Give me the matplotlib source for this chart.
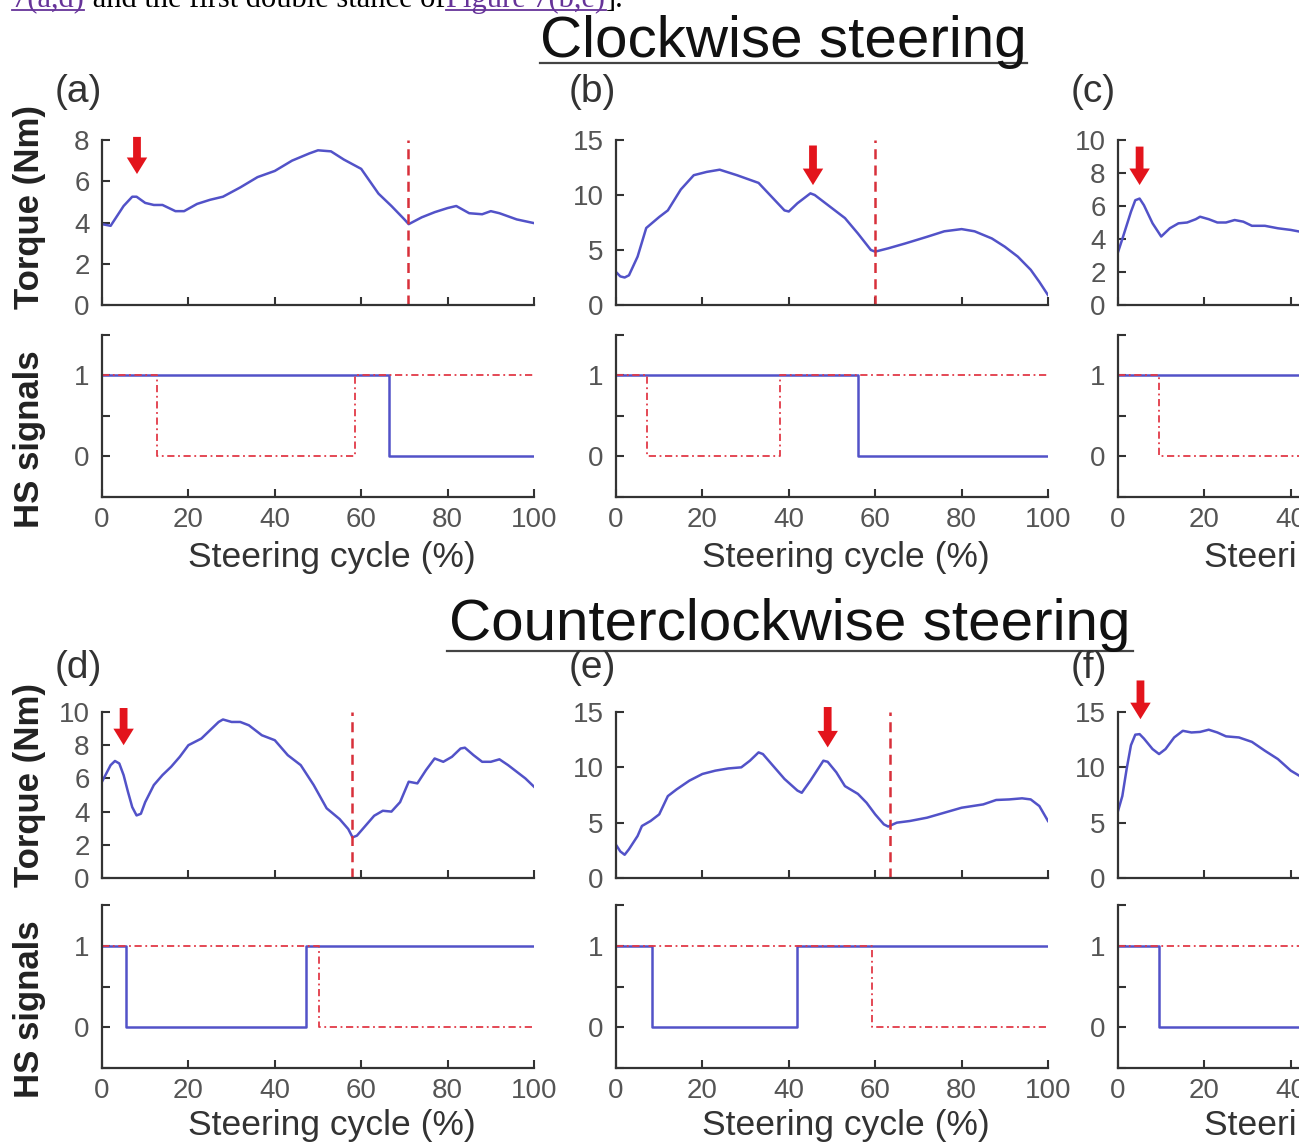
import matplotlib
matplotlib.use("Agg")
import matplotlib.pyplot as plt
from matplotlib.lines import Line2D

plt.rcParams["font.family"] = ["Liberation Sans", "DejaVu Sans"]

W, H = 1299, 1144

# torque curves (x = steering cycle %, y = Nm)
a_x = [0, 2, 5, 7, 8, 10, 12, 14, 17, 19, 22, 25, 28, 32, 36, 40, 44, 48, 50, 53,
       56, 60, 64, 67, 70, 71, 74, 77, 80, 82, 85, 88, 90, 92, 96, 100]
a_y = [3.92, 3.84, 4.8, 5.25, 5.25, 4.95, 4.85, 4.85, 4.55, 4.55, 4.9, 5.1, 5.25, 5.7,
       6.2, 6.5, 7.0, 7.35, 7.5, 7.45, 7.05, 6.6, 5.4, 4.8, 4.15, 3.92, 4.25, 4.5, 4.7,
       4.8, 4.45, 4.4, 4.55, 4.45, 4.15, 3.97]
b_x = [0, 1, 2, 3, 5, 7, 10, 12, 15, 18, 21, 24, 28, 33, 36, 39, 40, 42, 45, 46, 50,
       53, 56, 59, 60, 63, 67, 72, 76, 80, 83, 87, 90, 93, 96, 98, 100]
b_y = [3.0, 2.6, 2.5, 2.7, 4.4, 7.0, 8.0, 8.6, 10.5, 11.8, 12.1, 12.3, 11.8, 11.1, 9.85,
       8.6, 8.5, 9.25, 10.15, 10.0, 8.8, 7.9, 6.5, 5.0, 4.85, 5.15, 5.6, 6.2, 6.7, 6.9,
       6.7, 6.05, 5.3, 4.4, 3.2, 2.1, 0.9]
c_x = [0, 1, 3, 4, 5, 6, 8, 10, 12, 14, 16, 18, 19, 21, 23, 25, 27, 29, 31, 34, 37, 40, 43]
c_y = [3.2, 4.0, 5.65, 6.35, 6.45, 6.05, 4.95, 4.15, 4.65, 4.95, 5.0, 5.2, 5.35, 5.2,
       5.0, 5.0, 5.15, 5.05, 4.8, 4.8, 4.65, 4.55, 4.4]
d_x = [0, 1, 2, 3, 4, 5, 6, 7, 8, 9, 10, 12, 14, 16, 18, 20, 23, 25, 27, 28, 30, 32, 34,
       37, 40, 43, 46, 49, 52, 55, 57, 58, 59, 61, 63, 65, 67, 69, 71, 73, 75, 77, 79,
       81, 83, 84, 86, 88, 90, 92, 94, 96, 98, 100]
d_y = [5.8, 6.3, 6.8, 7.05, 6.9, 6.2, 5.2, 4.27, 3.77, 3.87, 4.57, 5.6, 6.2, 6.7, 7.3,
       8.0, 8.4, 8.9, 9.4, 9.55, 9.4, 9.4, 9.2, 8.6, 8.3, 7.4, 6.8, 5.6, 4.2, 3.55, 2.95,
       2.45, 2.55, 3.15, 3.75, 4.05, 4.0, 4.57, 5.8, 5.7, 6.5, 7.2, 7.0, 7.3, 7.8, 7.85,
       7.4, 7.0, 7.0, 7.15, 6.8, 6.4, 6.0, 5.5]
e_x = [0, 1, 2, 3, 5, 6, 8, 10, 12, 14, 17, 20, 23, 26, 29, 31, 33, 34, 36, 39, 42, 43,
       45, 47, 48, 49, 51, 53, 56, 58, 60, 62, 63, 65, 68, 72, 76, 80, 85, 88, 91, 94,
       96, 98, 100]
e_y = [3.0, 2.4, 2.1, 2.6, 3.8, 4.7, 5.15, 5.75, 7.4, 8.0, 8.8, 9.4, 9.7, 9.9, 10.0,
       10.6, 11.35, 11.2, 10.3, 8.95, 7.9, 7.7, 8.8, 10.0, 10.6, 10.5, 9.55, 8.3, 7.6,
       6.8, 5.75, 4.85, 4.65, 5.0, 5.15, 5.45, 5.9, 6.35, 6.65, 7.05, 7.1, 7.2, 7.1,
       6.5, 5.15]
f_x = [0, 1, 2, 3, 4, 5, 6, 8, 9.5, 11, 13, 15, 17, 19, 21, 23, 25, 28, 31, 34, 37, 40, 43]
f_y = [6.05, 7.4, 9.85, 12.0, 12.95, 13.0, 12.6, 11.65, 11.2, 11.65, 12.7, 13.3, 13.15,
       13.2, 13.4, 13.15, 12.8, 12.7, 12.3, 11.5, 10.75, 9.7, 9.0]

# y-axis limits / tick steps per panel
torque_ymax = {"a": 8, "b": 15, "c": 10, "d": 10, "e": 15, "f": 15}
torque_step = {"a": 2, "b": 5, "c": 2, "d": 2, "e": 5, "f": 5}

# dashed vertical markers (% of cycle)
vline_x = {"a": 70.8, "b": 60.0, "d": 57.8, "e": 63.5}

# red arrows: x, tail y, tip y
arrows = {
    "a": (8.1, 8.15, 6.35),
    "b": (45.6, 14.5, 10.9),
    "c": (5.0, 9.6, 7.27),
    "d": (5.0, 10.24, 8.0),
    "e": (49.0, 15.45, 11.8),
    "f": (5.2, 17.85, 14.35),
}

# HS signals: step edges and levels
hs_blue = {
    "a": ([0, 66.5, 100], [1, 0]),
    "b": ([0, 56.1, 100], [1, 0]),
    "c": ([0, 100], [1]),
    "d": ([0, 5.5, 47.2, 100], [1, 0, 1]),
    "e": ([0, 8.3, 41.8, 100], [1, 0, 1]),
    "f": ([0, 9.6, 100], [1, 0]),
}
hs_red = {
    "a": ([0, 12.7, 58.6, 100], [1, 0, 1]),
    "b": ([0, 7.2, 37.9, 100], [1, 0, 1]),
    "c": ([0, 9.4, 100], [1, 0]),
    "d": ([0, 50.2, 100], [1, 0]),
    "e": ([0, 59.3, 100], [1, 0]),
    "f": ([0, 100], [1]),
}

torque = {"a": (a_x, a_y), "b": (b_x, b_y), "c": (c_x, c_y),
          "d": (d_x, d_y), "e": (e_x, e_y), "f": (f_x, f_y)}

BLUE = "#5252c8"
RED = "#e3141c"
DARK = "#333333"
GREY = "#555555"


def box(left, top, w, h):
    return [left / W, 1 - (top + h) / H, w / W, h / H]


def fx(px):
    return px / W


def fy(py):
    return 1 - py / H


def style(ax):
    for s in ("top", "right"):
        ax.spines[s].set_visible(False)
    for s in ("left", "bottom"):
        ax.spines[s].set_color(DARK)
        ax.spines[s].set_linewidth(1.6)
    ax.tick_params(direction="in", length=6, width=1.5, color=DARK,
                   labelsize=20, labelcolor=GREY)
    ax.tick_params(axis="y", pad=9)
    ax.tick_params(axis="x", pad=7)
    ax.set_xlim(0, 100)
    ax.set_xticks(range(0, 101, 20))


fig = plt.figure(figsize=(W / 100, H / 100), dpi=100)

col_left = [102, 616, 1118]
rows = [("abc", 140, 165, 335, 162), ("def", 712, 166, 905, 163)]
AX_W = 432

for names, t_top, t_h, s_top, s_h in rows:
    for i, k in enumerate(names):
        left = col_left[i]
        ax = fig.add_axes(box(left, t_top, AX_W, t_h))
        style(ax)
        x, y = torque[k]
        ax.plot(x, y, color=BLUE, lw=1.8, solid_joinstyle="round")
        ymax = torque_ymax[k]
        ax.set_ylim(0, ymax)
        ax.set_yticks(range(0, ymax + 1, torque_step[k]))
        ax.set_xticklabels([])
        if k in vline_x:
            ax.axvline(vline_x[k], color="#d8303a", lw=1.8, ls=(0, (4, 2.5)))
        ax_x, tail, tip = arrows[k]
        ax.annotate("", xy=(ax_x, tip), xytext=(ax_x, tail), annotation_clip=False,
                    arrowprops=dict(arrowstyle="simple,head_length=0.85,head_width=1.05,tail_width=0.4",
                                    mutation_scale=14, color=RED, lw=0,
                                    shrinkA=0, shrinkB=0))

        hs = fig.add_axes(box(left, s_top, AX_W, s_h))
        style(hs)
        edges, lev = hs_blue[k]
        hs.step(edges, list(lev) + [lev[-1]], where="post", color=BLUE, lw=1.8)
        edges, lev = hs_red[k]
        hs.step(edges, list(lev) + [lev[-1]], where="post", color="#e23a48",
                lw=1.3, ls=(0, (4, 2, 1, 2)))
        hs.set_ylim(-0.5, 1.5)
        hs.set_yticks([-0.5, 0, 0.5, 1, 1.5])
        hs.set_yticklabels(["", "0", "", "1", ""])
        hs.set_xticklabels([str(v) for v in range(0, 101, 20)])

        # panel letter and x label
        lab_y = 92 if names == "abc" else 668
        fig.text(fx(left - 47), fy(lab_y), f"({k})", fontsize=28, color=DARK,
                 ha="left", va="center")
        xl_y = 557 if names == "abc" else 1125
        fig.text(fx(left + AX_W / 2 + 14), fy(xl_y), "Steering cycle (%)", fontsize=25.5,
                 color=DARK, ha="center", va="center")

# y axis labels
for yc, txt in [(207, "Torque (Nm)"), (439, "HS signals"),
                (785, "Torque (Nm)"), (1009, "HS signals")]:
    fig.text(fx(30), fy(yc), txt, rotation=90, fontsize=25, fontweight="bold",
             color="#222222", ha="center", va="center")

# section titles with underline
for xc, base, uy, x0, x1, txt in [(783, 57, 63, 540, 1027, "Clockwise steering"),
                                  (790, 640, 651, 447, 1133, "Counterclockwise steering")]:
    fig.text(fx(xc), fy(base), txt, fontsize=42, color="#111111",
             ha="center", va="baseline")
    fig.add_artist(Line2D([fx(x0), fx(x1)], [fy(uy), fy(uy)], color="#444444", lw=1.6))

# cut-off line of body text at the very top
PURPLE = "#663399"
for xp, txt, col in [(12, "7(a,d)", PURPLE), (85, " and the first double stance of", "black"),
                     (446, "Figure 7(b,e)", PURPLE), (606, "].", "black")]:
    fig.text(fx(xp), fy(7), txt, fontsize=22, family="Liberation Serif", color=col,
             ha="left", va="baseline")
for x0, x1 in [(12, 84), (446, 606)]:
    fig.add_artist(Line2D([fx(x0), fx(x1)], [fy(10), fy(10)], color=PURPLE, lw=1.3))

fig.savefig("out.png", dpi=100)
plt.close(fig)
